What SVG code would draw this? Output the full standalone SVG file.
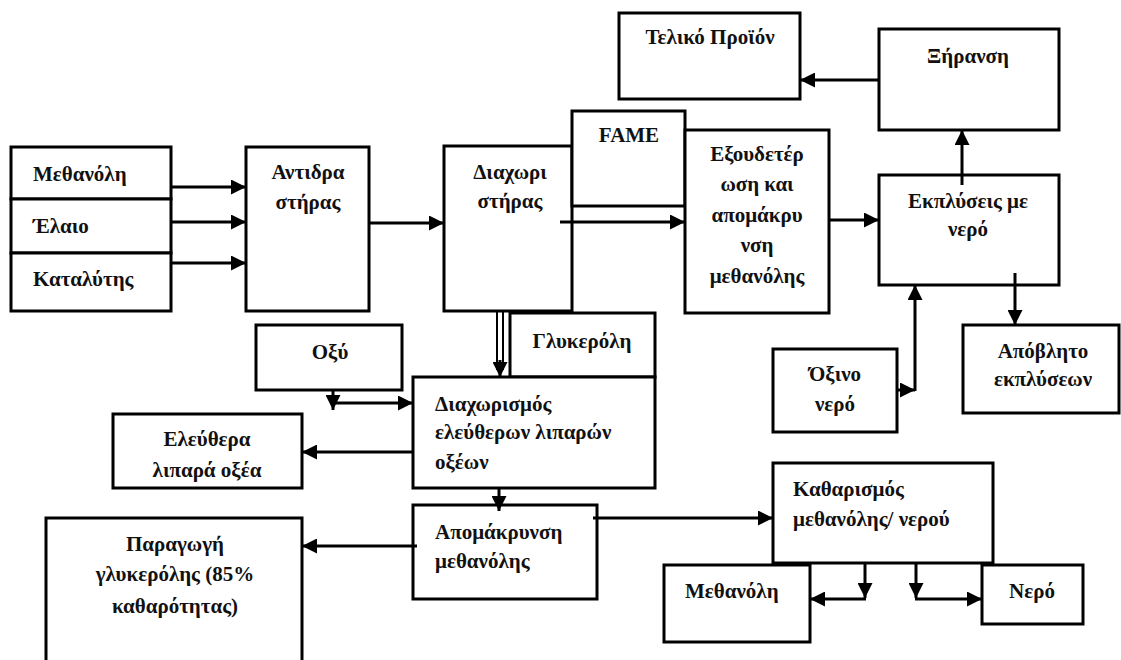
<svg xmlns="http://www.w3.org/2000/svg" width="1121" height="660" viewBox="0 0 1121 660">
<defs>
<style>
.box{fill:#fff;stroke:#000;stroke-width:3}
.t{font-family:"Liberation Serif","Times New Roman",serif;font-weight:bold;font-size:21px;fill:#111}
.c{text-anchor:middle}
.ln{fill:none;stroke:#000;stroke-width:3}
.thin{fill:none;stroke:#000;stroke-width:2}
</style>
<marker id="ah" markerUnits="userSpaceOnUse" markerWidth="15" markerHeight="15" refX="15" refY="7.5" orient="auto">
<path d="M0,0 L15,7.5 L0,15 Z" fill="#000"/>
</marker>
</defs>
<rect width="1121" height="660" fill="#fff"/>

<g id="n-methanol-in"><rect class="box" x="11" y="147" width="160" height="52"/><text class="t" x="33" y="181">Μεθανόλη</text></g>
<g id="n-elaio"><rect class="box" x="11" y="199" width="160" height="54"/><text class="t" x="33" y="233">Έλαιο</text></g>
<g id="n-katalytis"><rect class="box" x="11" y="253" width="160" height="58"/><text class="t" x="33" y="286">Καταλύτης</text></g>
<g id="n-antidrastiras"><rect class="box" x="246" y="147" width="123" height="164"/><text class="t c" x="308" y="179">Αντιδρα</text><text class="t c" x="308" y="209">στήρας</text></g>
<g id="n-diaxoristiras"><rect class="box" x="444" y="146" width="128" height="165"/><text class="t c" x="510" y="179">Διαχωρι</text><text class="t c" x="510" y="208">στήρας</text></g>
<g id="n-fame"><rect class="box" x="572" y="111" width="113" height="95"/><text class="t c" x="629" y="142">FAME</text></g>
<g id="n-exoudeterosi"><rect class="box" x="685" y="130" width="144" height="183"/>
<text class="t c" x="757" y="161">Εξουδετέρ</text><text class="t c" x="757" y="191">ωση και</text><text class="t c" x="757" y="222">απομάκρυ</text><text class="t c" x="757" y="252">νση</text><text class="t c" x="757" y="283">μεθανόλης</text></g>
<g id="n-teliko"><rect class="box" x="619" y="13" width="181" height="86"/><text class="t c" x="710" y="44">Τελικό Προϊόν</text></g>
<g id="n-xiransi"><rect class="box" x="879" y="29" width="180" height="101"/><text class="t c" x="968" y="63">Ξήρανση</text></g>
<g id="n-ekplyseis"><rect class="box" x="879" y="175" width="180" height="110"/><text class="t c" x="968" y="208">Εκπλύσεις με</text><text class="t c" x="968" y="236">νερό</text></g>
<g id="n-apovlito"><rect class="box" x="963" y="325" width="156" height="88"/><text class="t c" x="1043" y="358">Απόβλητο</text><text class="t c" x="1043" y="386">εκπλύσεων</text></g>
<g id="n-oxino"><rect class="box" x="773" y="349" width="124" height="83"/><text class="t c" x="835" y="381">Όξινο</text><text class="t c" x="835" y="411">νερό</text></g>
<g id="n-oxy"><rect class="box" x="256" y="325" width="146" height="65"/><text class="t c" x="330" y="359">Οξύ</text></g>
<g id="n-glykeroli"><rect class="box" x="510" y="313" width="145" height="64"/><text class="t c" x="582" y="348">Γλυκερόλη</text></g>
<g id="n-diaxorismos"><rect class="box" x="413" y="377" width="242" height="111"/><text class="t" x="435" y="411">Διαχωρισμός</text><text class="t" x="435" y="439">ελεύθερων λιπαρών</text><text class="t" x="435" y="469">οξέων</text></g>
<g id="n-eleuthera"><rect class="box" x="113" y="414" width="189" height="74"/><text class="t c" x="207" y="446">Ελεύθερα</text><text class="t c" x="207" y="477">λιπαρά οξέα</text></g>
<g id="n-apomakrynsi"><rect class="box" x="413" y="505" width="184" height="94"/><text class="t" x="435" y="539">Απομάκρυνση</text><text class="t" x="435" y="568">μεθανόλης</text></g>
<g id="n-paragogi"><rect class="box" x="46" y="518" width="256" height="160"/><text class="t c" x="175" y="551">Παραγωγή</text><text class="t c" x="175" y="581">γλυκερόλης (85%</text><text class="t c" x="175" y="613">καθαρότητας)</text></g>
<g id="n-katharismos"><rect class="box" x="773" y="463" width="220" height="100"/><text class="t" x="793" y="496">Καθαρισμός</text><text class="t" x="793" y="526">μεθανόλης/ νερού</text></g>
<g id="n-methanol-out"><rect class="box" x="664" y="565" width="146" height="77"/><text class="t" x="685" y="598">Μεθανόλη</text></g>
<g id="n-nero"><rect class="box" x="982" y="565" width="101" height="59"/><text class="t c" x="1032" y="598">Νερό</text></g>

<g id="connectors">
<line class="ln" x1="171" y1="187" x2="246" y2="187" marker-end="url(#ah)"/>
<line class="ln" x1="171" y1="222" x2="246" y2="222" marker-end="url(#ah)"/>
<line class="ln" x1="171" y1="263" x2="246" y2="263" marker-end="url(#ah)"/>
<line class="ln" x1="369" y1="223" x2="444" y2="223" marker-end="url(#ah)"/>
<line class="ln" x1="560" y1="222" x2="685" y2="222" marker-end="url(#ah)"/>
<line class="ln" x1="829" y1="220" x2="879" y2="220" marker-end="url(#ah)"/>
<line class="ln" x1="962" y1="185" x2="962" y2="130" marker-end="url(#ah)"/>
<line class="ln" x1="879" y1="80" x2="800" y2="80" marker-end="url(#ah)"/>
<line class="ln" x1="1015" y1="273" x2="1015" y2="325" marker-end="url(#ah)"/>
<line class="ln" x1="897" y1="390" x2="915" y2="390" marker-end="url(#ah)"/>
<line class="ln" x1="915" y1="391" x2="915" y2="285" marker-end="url(#ah)"/>
<line class="ln" x1="333" y1="390" x2="333" y2="410" marker-end="url(#ah)"/>
<line class="ln" x1="330" y1="403" x2="413" y2="403" marker-end="url(#ah)"/>
<line class="thin" x1="497" y1="311" x2="497" y2="370"/>
<line class="thin" x1="503" y1="311" x2="503" y2="370"/>
<line class="ln" x1="500" y1="360" x2="500" y2="377" marker-end="url(#ah)"/>
<line class="ln" x1="413" y1="452" x2="302" y2="452" marker-end="url(#ah)"/>
<line class="ln" x1="499" y1="488" x2="499" y2="511" marker-end="url(#ah)"/>
<line class="ln" x1="593" y1="518" x2="773" y2="518" marker-end="url(#ah)"/>
<line class="ln" x1="417" y1="546" x2="302" y2="546" marker-end="url(#ah)"/>
<line class="ln" x1="865" y1="563" x2="865" y2="598" marker-end="url(#ah)"/>
<line class="ln" x1="866" y1="599" x2="810" y2="599" marker-end="url(#ah)"/>
<line class="ln" x1="916" y1="563" x2="916" y2="598" marker-end="url(#ah)"/>
<line class="ln" x1="915" y1="599" x2="982" y2="599" marker-end="url(#ah)"/>
</g>
</svg>
